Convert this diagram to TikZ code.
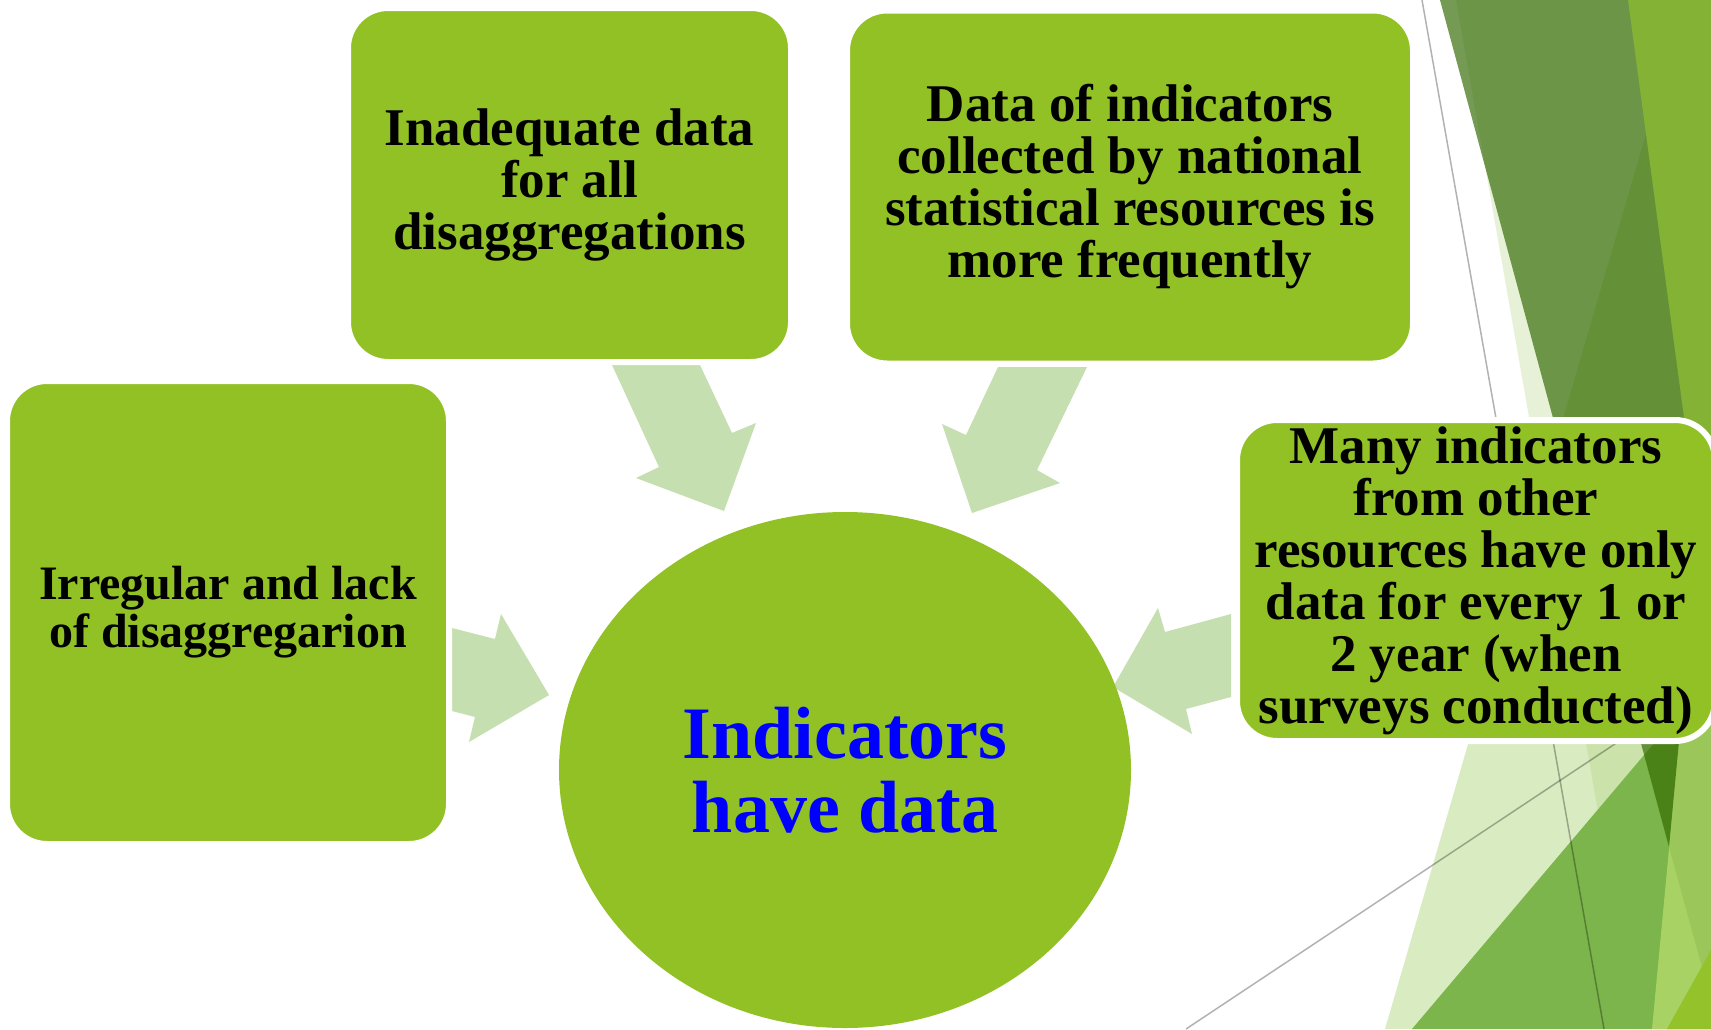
\documentclass[tikz,border=0pt]{standalone}
\usepackage{fontspec}
\setmainfont{Liberation Serif}
\usetikzlibrary{shapes.geometric}
\definecolor{boxgreen}{RGB}{146,193,37}
\definecolor{arrowgreen}{RGB}{198,223,176}
\definecolor{txtblue}{RGB}{0,0,255}
\definecolor{facetpale}{RGB}{130,190,50}
\definecolor{facetstrip}{RGB}{163,203,103}
\definecolor{facetmid}{RGB}{124,181,75}
\definecolor{facetlight}{RGB}{168,210,99}
\definecolor{facetlight2}{RGB}{155,199,90}
\definecolor{facetcorner}{RGB}{147,194,43}
\definecolor{facetdark}{RGB}{50,105,0}
\definecolor{facetbright}{RGB}{132,178,52}
\begin{document}
\begin{tikzpicture}[x=1pt,y=-1pt,
  gbox/.style={rectangle, rounded corners=40pt, fill=boxgreen, draw=white, line width=6pt,
    align=center, inner sep=0pt, text=black, font=\fontsize{53}{52}\selectfont\bfseries},
  barrow/.style={fill=arrowgreen},
  thinline/.style={draw=black, draw opacity=0.3, line width=1.5pt}]
\useasboundingbox (0,0) rectangle (1711,1029);
\clip (0,0) rectangle (1711,1029);
\fill[white] (0,0) rectangle (1711,1029);

% background facets
\fill[facetpale, fill opacity=0.3] (1385,1029) -- (1685,0) -- (1711,0) -- (1711,1029) -- cycle;
\fill[facetstrip, fill opacity=0.25] (1456,0) -- (1636,1029) -- (1652,1029) -- (1749,0) -- cycle;
\fill[facetmid] (1412,1029) -- (1711,676) -- (1711,1029) -- cycle;
\fill[facetlight] (1711,404) -- (1652,1029) -- (1711,1029) -- cycle;
\fill[facetlight2] (1683,700) -- (1669,847) -- (1711,1000) -- (1711,700) -- cycle;
\fill[facetcorner] (1711,950) -- (1667,1029) -- (1711,1029) -- cycle;
\fill[facetdark, fill opacity=0.67] (1440,0) -- (1669,847) -- (1749,0) -- cycle;
\fill[facetbright] (1628,0) -- (1711,0) -- (1711,619) -- cycle;
\coordinate (g1a) at (1422,0);
\coordinate (g1b) at (1604,1029);
\coordinate (g2a) at (1186,1029);
\coordinate (g2b) at (1660,714);
\draw[thinline] (g1a) -- (g1b);
\draw[thinline] (g2a) -- (g2b);

% block arrows
\coordinate (t1) at (724,511);
\coordinate (t2) at (972,513);
\coordinate (t3) at (549,695);
\coordinate (t4) at (1113,687);
\fill[barrow] (612,365) -- (700,365) -- (732,433) -- (756,423) -- (t1) -- (636,478) -- (659,467) -- cycle;
\fill[barrow] (998,367) -- (1087,367) -- (1037,470) -- (1060,483) -- (t2) -- (942,424) -- (966,435) -- cycle;
\fill[barrow] (452,628) -- (495,639) -- (501,614) -- (t3) -- (469,742) -- (475,717) -- (452,711) -- cycle;
\fill[barrow] (1231,614) -- (1165,632) -- (1158,608) -- (t4) -- (1192,734) -- (1186,709) -- (1231,697) -- cycle;

% centre
\node[ellipse, fill=boxgreen, minimum width=572pt, minimum height=516pt, inner sep=0pt,
  align=center, text=txtblue, font=\fontsize{74}{74}\selectfont\bfseries] (hub) at (845,770)
  {Indicators\\have data};

% boxes
\node[gbox, minimum width=443pt, minimum height=354pt] (a) at (569.5,185)
  {Inadequate data\\for all\\disaggregations};
\node[gbox, minimum width=566pt, minimum height=353pt] (b) at (1130,187)
  {Data of indicators\\collected by national\\statistical resources is\\more frequently};
\node[gbox, minimum width=442pt, minimum height=463pt, font=\fontsize{48}{48}\selectfont\bfseries] (c) at (228,612.5)
  {Irregular and lack\\of disaggregarion};
\node[gbox, minimum width=478pt, minimum height=321pt] (d) at (1476,580.5)
  {Many indicators\\from other\\resources have only\\data for every 1 or\\2 year (when\\surveys conducted)};
\end{tikzpicture}
\end{document}
